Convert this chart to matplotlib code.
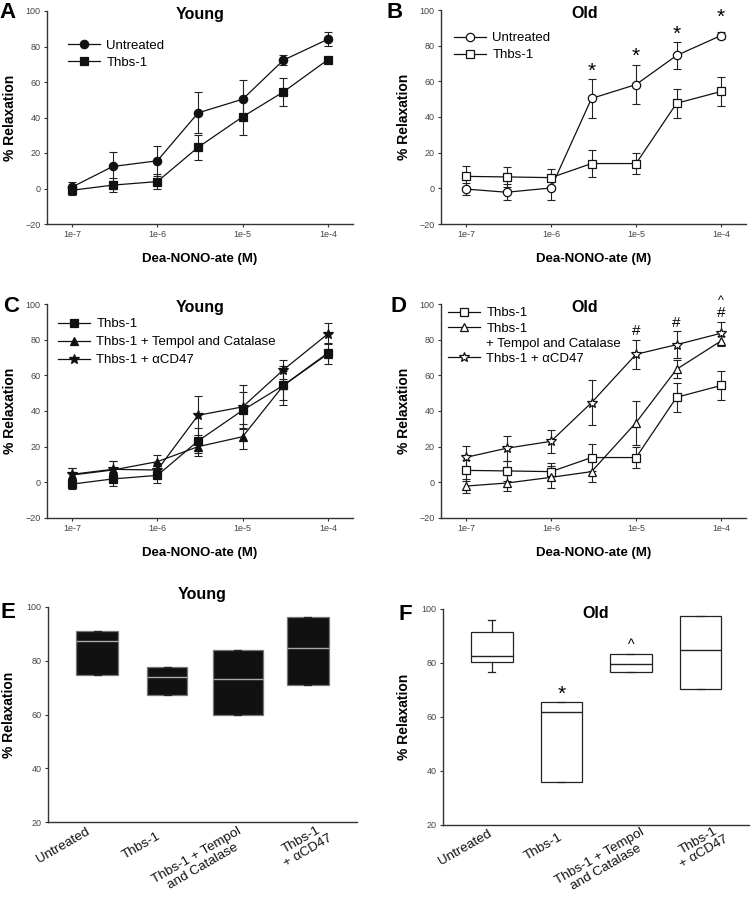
import matplotlib
matplotlib.use('Agg')
import matplotlib.pyplot as plt
import matplotlib.transforms as mtransforms
from matplotlib.lines import Line2D

plt.rcParams['font.family'] = ['Liberation Sans', 'DejaVu Sans']

# ---------------- data ----------------
conc = [1e-7, 3e-7, 1e-6, 3e-6, 1e-5, 3e-5, 1e-4]
conc_ticks = [1e-7, 1e-6, 1e-5, 1e-4]
conc_tick_labels = ['1e-7', '1e-6', '1e-5', '1e-4']

young_untreated = [0.8, 12.4, 15.6, 42.6, 50.3, 72.3, 84.1]
young_untreated_err = [3.0, 8.3, 8.6, 11.5, 10.7, 2.8, 3.8]
young_thbs1 = [-1.0, 1.9, 3.9, 23.2, 40.4, 54.4, 72.6]
young_thbs1_err = [2.5, 4.0, 4.3, 7.0, 10.0, 8.0, 1.0]
young_tempol = [4.1, 6.9, 11.6, 20.0, 25.6, 54.3, 72.1]
young_tempol_err = [4.0, 5.0, 4.0, 5.0, 7.0, 11.0, 6.0]
young_cd47 = [4.5, 7.3, 6.9, 37.6, 42.3, 63.1, 83.3]
young_cd47_err = [3.7, 4.5, 4.0, 11.0, 12.4, 5.4, 6.0]

old_untreated = [-0.4, -2.2, 0.2, 50.4, 58.2, 74.5, 85.7]
old_untreated_err = [3.4, 4.5, 6.6, 10.8, 10.9, 7.5, 2.0]
old_thbs1 = [6.7, 6.4, 6.0, 13.9, 13.9, 47.7, 54.3]
old_thbs1_err = [5.8, 5.4, 4.9, 7.8, 6.1, 8.0, 7.9]
old_tempol = [-2.1, -0.4, 2.8, 6.0, 33.5, 63.4, 79.3]
old_tempol_err = [3.8, 4.3, 6.2, 6.0, 12.3, 5.0, 3.0]
old_cd47 = [14.0, 19.1, 23.0, 44.7, 71.8, 77.2, 83.6]
old_cd47_err = [6.6, 7.0, 6.5, 12.5, 8.2, 7.5, 6.5]

# significance marks
b_marks_x = [3e-6, 1e-5, 3e-5, 1e-4]
b_marks_y = [65.5, 74.0, 86.5, 96.0]
d_marks_x = [1e-5, 3e-5, 1e-4, 1e-4]
d_marks_y = [84.9, 89.5, 94.8, 101.5]
d_marks_s = ['#', '#', '#', '^']

box_categories = ['Untreated', 'Thbs-1', 'Thbs-1 + Tempol\nand Catalase', 'Thbs-1\n+ \u03b1CD47']
# Young (E): q1, median, q3
young_q1 = [74.6, 67.2, 59.7, 71.0]
young_med = [87.5, 74.1, 73.2, 84.6]
young_q3 = [91.1, 77.5, 83.9, 96.3]
# Old (F)
old_whislo = [76.7, 35.9, 76.5, 70.5]
old_q1 = [80.5, 35.9, 76.5, 70.5]
old_med = [82.6, 61.7, 79.8, 84.7]
old_q3 = [91.6, 65.7, 83.5, 97.5]
old_whishi = [95.9, 65.7, 83.5, 97.5]
f_marks_pos = [1, 2]
f_marks_y = [68.5, 86.5]
f_marks_s = ['*', '^']

# ---------------- layout / style ----------------
young_widths = [0.59, 0.57, 0.71, 0.59]
old_widths = [0.6, 0.59, 0.6, 0.59]
e_label_offsets = [(-11, 4), (-11, 8), (0, 3), (14, -1)]
f_label_offsets = [(-4, 3), (-3, 6), (10, 1), (18, -3)]

W, H = 752, 899
fig = plt.figure(figsize=(W / 100, H / 100), dpi=100)


def add_ax(l, t, r, b):
    return fig.add_axes([l / W, 1 - b / H, (r - l) / W, (b - t) / H])


SPINE = '#333333'
TICKC = '#444444'


def style(ax):
    for s in ['top', 'right']:
        ax.spines[s].set_visible(False)
    for s in ['left', 'bottom']:
        ax.spines[s].set_color(SPINE)
        ax.spines[s].set_linewidth(1.0)
    ax.tick_params(axis='both', length=2.5, width=0.8, color=SPINE,
                   labelsize=6.5, labelcolor=TICKC, pad=2)
    ax.tick_params(axis='x', which='minor', length=0)


def line_panel(ax, series, title, title_x):
    style(ax)
    ax.set_xscale('log')
    ax.set_xlim(10 ** -7.293, 10 ** -3.707)
    ax.set_ylim(-20, 100)
    ax.set_yticks([-20, 0, 20, 40, 60, 80, 100])
    ax.set_xticks(conc_ticks)
    ax.set_xticklabels(conc_tick_labels)
    ax.xaxis.set_minor_locator(matplotlib.ticker.NullLocator())
    handles = []
    for y, e, marker, fc, ms in series:
        ax.errorbar(conc, y, yerr=e, fmt='none', ecolor='#222222',
                    elinewidth=0.8, capsize=3, capthick=0.8, zorder=2)
        ax.plot(conc, y, color='#111111', lw=0.9, marker=marker, ms=ms,
                mfc=fc, mec='#111111', mew=0.9, zorder=3)
        handles.append(Line2D([], [], color='#111111', lw=0.9, marker=marker, ms=ms,
                              mfc=fc, mec='#111111', mew=0.9))
    ax.set_xlabel('Dea-NONO-ate (M)', fontsize=9.5, fontweight='bold', labelpad=10)
    ax.set_ylabel('% Relaxation', fontsize=10, fontweight='bold', labelpad=6)
    ax.text(title_x, 0.985, title, transform=ax.transAxes, ha='center', va='center',
            fontsize=11.5, fontweight='bold')
    return handles


def legend(ax, handles, labels, anchor, labelspacing):
    ax.legend(handles, labels, loc='upper left', bbox_to_anchor=anchor, frameon=False,
              fontsize=9.5, borderpad=0, borderaxespad=0, handlelength=2.4,
              handletextpad=0.5, labelspacing=labelspacing, numpoints=1)


# Panel A
axA = add_ax(47, 11, 353, 224)
h = line_panel(axA, [
    (young_untreated, young_untreated_err, 'o', '#111111', 6),
    (young_thbs1, young_thbs1_err, 's', '#111111', 5.5),
], 'Young', 0.5)
legend(axA, h, ['Untreated', 'Thbs-1'], (0.069, 0.866), 0.35)

# Panel B
axB = add_ax(441, 10, 746, 224)
h = line_panel(axB, [
    (old_untreated, old_untreated_err, 'o', 'white', 6),
    (old_thbs1, old_thbs1_err, 's', 'white', 5.5),
], 'Old', 0.47)
legend(axB, h, ['Untreated', 'Thbs-1'], (0.043, 0.897), 0.35)
for x, y in zip(b_marks_x, b_marks_y):
    axB.text(x, y, '*', ha='center', va='center', fontsize=15)

# Panel C
axC = add_ax(47, 304, 353, 518)
h = line_panel(axC, [
    (young_thbs1, young_thbs1_err, 's', '#111111', 5.5),
    (young_tempol, young_tempol_err, '^', '#111111', 6),
    (young_cd47, young_cd47_err, '*', '#111111', 7.5),
], 'Young', 0.5)
legend(axC, h, ['Thbs-1', 'Thbs-1 + Tempol and Catalase', 'Thbs-1 + \u03b1CD47'],
       (0.036, 0.935), 0.45)

# Panel D
axD = add_ax(441, 304, 746, 518)
h = line_panel(axD, [
    (old_thbs1, old_thbs1_err, 's', 'white', 5.5),
    (old_tempol, old_tempol_err, '^', 'white', 6),
    (old_cd47, old_cd47_err, '*', 'white', 7.5),
], 'Old', 0.47)
blank = Line2D([], [], lw=0)
legend(axD, [h[0], h[1], blank, h[2]],
       ['Thbs-1', 'Thbs-1', '+ Tempol and Catalase', 'Thbs-1 + \u03b1CD47'],
       (0.023, 0.985), 0.22)
for x, y, s in zip(d_marks_x, d_marks_y, d_marks_s):
    axD.text(x, y, s, ha='center', va='center', fontsize=11 if s == '#' else 9)


def box_panel(ax, stats, widths, face, medc, edgec, title, title_y, offsets):
    style(ax)
    ax.bxp(stats, positions=range(len(stats)), widths=widths, patch_artist=True,
           showfliers=False, showcaps=True, capwidths=0.1,
           boxprops=dict(facecolor=face, edgecolor=edgec, linewidth=0.9),
           medianprops=dict(color=medc, linewidth=1.0),
           whiskerprops=dict(color='#222222', linewidth=0.9),
           capprops=dict(color='#222222', linewidth=0.9))
    ax.set_xlim(-0.7, 3.7)
    ax.set_ylim(20, 100)
    ax.set_yticks([20, 40, 60, 80, 100])
    ax.set_xticks(range(len(box_categories)))
    labels = ax.set_xticklabels(box_categories, rotation=30, ha='right', va='top',
                                rotation_mode='anchor', multialignment='center',
                                linespacing=1.05)
    ax.tick_params(axis='x', length=0, labelsize=9.7, labelcolor='#111111', pad=0)
    for lab, (dx, dy) in zip(labels, offsets):
        lab.set_transform(lab.get_transform() +
                          mtransforms.ScaledTranslation(dx / 100, -dy / 100,
                                                        fig.dpi_scale_trans))
    ax.set_ylabel('% Relaxation', fontsize=10, fontweight='bold', labelpad=8)
    ax.text(0.5, title_y, title, transform=ax.transAxes, ha='center', va='center',
            fontsize=11.5, fontweight='bold')


# Panel E
axE = add_ax(48, 607, 357, 822)
statsE = [dict(med=m, q1=a, q3=b, whislo=a, whishi=b, fliers=[])
          for a, m, b in zip(young_q1, young_med, young_q3)]
box_panel(axE, statsE, young_widths, '#111111', '#aaaaaa', '#777777', 'Young', 1.06,
          e_label_offsets)

# Panel F
axF = add_ax(443, 609, 749, 825)
statsF = [dict(med=m, q1=a, q3=b, whislo=wl, whishi=wh, fliers=[])
          for wl, a, m, b, wh in zip(old_whislo, old_q1, old_med, old_q3, old_whishi)]
box_panel(axF, statsF, old_widths, 'white', '#222222', '#222222', 'Old', 0.98,
          f_label_offsets)
for p, y, s in zip(f_marks_pos, f_marks_y, f_marks_s):
    axF.text(p, y, s, ha='center', va='center', fontsize=15 if s == '*' else 10)

# panel letters
for lx, ly, t in [(8, 13, 'A'), (395, 13, 'B'), (11, 307, 'C'), (399, 307, 'D'),
                  (8, 613, 'E'), (405, 614, 'F')]:
    fig.text(lx / W, 1 - ly / H, t, ha='center', va='center', fontsize=16,
             fontweight='bold')

fig.savefig('out.png', dpi=100)
